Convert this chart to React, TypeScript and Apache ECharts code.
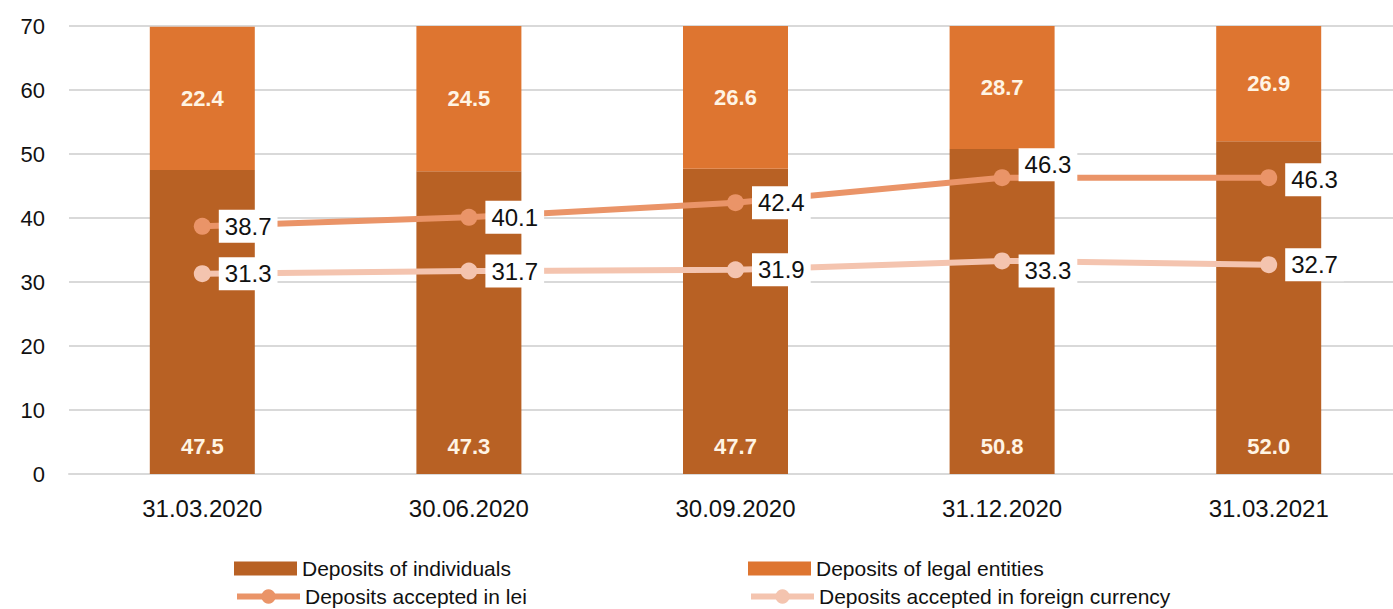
import React, { useEffect, useRef } from "react";
import * as echarts from "echarts";

const categories = ["31.03.2020", "30.06.2020", "30.09.2020", "31.12.2020", "31.03.2021"];
const individuals = [47.5, 47.3, 47.7, 50.8, 52.0];
const legalEntities = [22.4, 24.5, 26.6, 28.7, 26.9];
const inLei = [38.7, 40.1, 42.4, 46.3, 46.3];
const inForeign = [31.3, 31.7, 31.9, 33.3, 32.7];
const yTicks = [0, 10, 20, 30, 40, 50, 60, 70];

const seriesNames = [
  "Deposits of individuals",
  "Deposits of legal entities",
  "Deposits accepted in lei",
  "Deposits accepted in foreign currency",
];

const FONT = "'Liberation Sans', 'Noto Sans', sans-serif";

export default function App() {
  const ref = useRef<HTMLDivElement>(null);
  useEffect(() => {
    if (!ref.current) return;
    const chart = echarts.init(ref.current, undefined, { renderer: "svg" });
    const lineLabel = {
      show: true,
      position: "right",
      distance: 8,
      color: "#111",
      fontSize: 24,
      fontFamily: FONT,
      backgroundColor: "#fff",
      padding: [5, 6, 4, 6],
      formatter: (p: any) => Number(p.value).toFixed(1),
    };
    const leiOffsets = [[0, 0], [0, 0], [0, 0], [0, -13], [0, 2]];
    const fxOffsets = [[0, 0], [0, 0], [0, 0], [0, 10], [0, 0]];
    const legendBase = {
      itemWidth: 63,
      itemHeight: 14,
      itemGap: 4,
      textStyle: { fontSize: 21, color: "#111", fontFamily: FONT },
      padding: 0,
    };
    const lineLegend = {
      ...legendBase,
      itemHeight: 18,
      lineStyle: { width: 6 },
    };
    chart.setOption({
      animation: false,
      grid: { left: 69, top: 26, width: 1333, height: 448, containLabel: false },
      legend: [
        { ...legendBase, data: [{ name: seriesNames[0], icon: "rect" }], left: 234, top: 558 },
        { ...legendBase, data: [{ name: seriesNames[1], icon: "rect" }], left: 748, top: 558 },
        { ...lineLegend, data: [{ name: seriesNames[2] }], left: 234, top: 586 },
        { ...lineLegend, data: [{ name: seriesNames[3] }], left: 748, top: 586 },
      ],
      xAxis: {
        type: "category",
        data: categories,
        axisTick: { show: false },
        axisLine: { lineStyle: { color: "#d9d9d9", width: 2 } },
        axisLabel: { fontSize: 24, color: "#111", margin: 22, fontFamily: FONT },
      },
      yAxis: {
        type: "value",
        min: yTicks[0],
        max: yTicks[yTicks.length - 1],
        interval: 10,
        axisLabel: { fontSize: 22, color: "#111", margin: 24, fontFamily: FONT },
        splitLine: { lineStyle: { color: "#d9d9d9", width: 2 } },
        axisLine: { show: false },
        axisTick: { show: false },
      },
      series: [
        {
          name: seriesNames[0],
          type: "bar",
          stack: "dep",
          barWidth: 105,
          data: individuals,
          itemStyle: { color: "#B86124" },
          label: {
            show: true,
            position: "insideBottom",
            distance: 17,
            color: "#FFF4E4",
            fontSize: 22,
            fontWeight: "bold",
            fontFamily: FONT,
            formatter: (p: any) => Number(p.value).toFixed(1),
          },
        },
        {
          name: seriesNames[1],
          type: "bar",
          stack: "dep",
          barWidth: 105,
          data: legalEntities,
          itemStyle: { color: "#DE7530" },
          label: {
            show: true,
            position: "inside",
            color: "#FFF4E4",
            fontSize: 22,
            fontWeight: "bold",
            fontFamily: FONT,
            formatter: (p: any) => Number(p.value).toFixed(1),
          },
        },
        {
          name: seriesNames[2],
          type: "line",
          z: 5,
          symbol: "circle",
          symbolSize: 17,
          data: inLei.map((v, i) => ({ value: v, label: { offset: leiOffsets[i] } })),
          itemStyle: { color: "#EA9468" },
          lineStyle: { color: "#EA9468", width: 6 },
          label: lineLabel,
        },
        {
          name: seriesNames[3],
          type: "line",
          z: 5,
          symbol: "circle",
          symbolSize: 17,
          data: inForeign.map((v, i) => ({ value: v, label: { offset: fxOffsets[i] } })),
          itemStyle: { color: "#F4C4AF" },
          lineStyle: { color: "#F4C4AF", width: 6 },
          label: lineLabel,
        },
      ],
    });
    return () => chart.dispose();
  }, []);
  return (
    <div
      ref={ref}
      style={{ position: "fixed", left: 0, top: 0, width: 1410, height: 609, background: "#fff" }}
    />
  );
}
